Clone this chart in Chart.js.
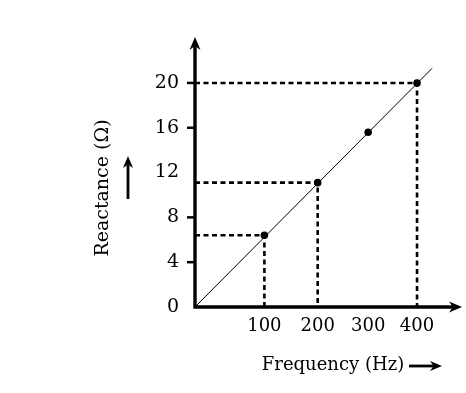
<!DOCTYPE html>
<html><head><meta charset="utf-8">
<script src="https://cdn.jsdelivr.net/npm/chart.js@4/dist/chart.umd.min.js"></script>
<style>html,body{margin:0;padding:0;background:#fff}</style>
</head><body>
<canvas id="c" width="466" height="393"></canvas>
<script>
// ---- data ----
const freqLabels = ['100', '200', '300', '400'];   // tick labels under the points
const pointFreq = [125, 221, 312, 400];             // frequency of each point along the drawn axis
const reactance = [6.4, 11.1, 15.6, 20];            // reactance of each point (Ω)
const yTicks = [0, 4, 8, 12, 16, 20];
const yTickMarks = [false, true, true, false, true, true];
const hasGuides = [true, true, false, true];
const lineFreq = [0, 427];
const lineReact = [0, 21.3];
const xMax = 481, yMax = 24.1;

const FONT = '"DejaVu Serif", "Liberation Serif", serif';

function arrow(ctx, x, y, dir, len, half) {
  ctx.save();
  ctx.translate(x, y);
  ctx.rotate(dir);
  ctx.beginPath();
  ctx.moveTo(0, 0);
  ctx.lineTo(-len, -half);
  ctx.lineTo(-len * 0.7, 0);
  ctx.lineTo(-len, half);
  ctx.closePath();
  ctx.fill();
  ctx.restore();
}

const decor = {
  id: 'decor',
  beforeDatasetsDraw(chart) {
    const {ctx, chartArea: a, scales: {x, y}} = chart;
    ctx.save();
    ctx.strokeStyle = '#000';
    ctx.fillStyle = '#000';
    // dashed guides
    ctx.lineWidth = 2.6;
    ctx.setLineDash([5, 3.5]);
    pointFreq.forEach((f, i) => {
      if (!hasGuides[i]) return;
      const px = x.getPixelForValue(f), py = y.getPixelForValue(reactance[i]);
      ctx.beginPath();
      ctx.moveTo(x.getPixelForValue(0), py);
      ctx.lineTo(px, py);
      ctx.lineTo(px, y.getPixelForValue(0));
      ctx.stroke();
    });
    ctx.setLineDash([]);
    // axes
    const ox = x.getPixelForValue(0), oy = y.getPixelForValue(0);
    ctx.lineWidth = 3.4;
    ctx.beginPath();
    ctx.moveTo(ox, oy + 1.5);
    ctx.lineTo(ox, a.top + 6);
    ctx.moveTo(ox - 1.5, oy);
    ctx.lineTo(a.right - 6, oy);
    ctx.stroke();
    arrow(ctx, ox, a.top, -Math.PI / 2, 13, 5.5);
    arrow(ctx, a.right, oy, 0, 13, 5.5);
    // y tick marks
    ctx.lineWidth = 2.5;
    yTicks.forEach((v, i) => {
      if (!yTickMarks[i]) return;
      const py = y.getPixelForValue(v);
      ctx.beginPath();
      ctx.moveTo(ox - 8, py);
      ctx.lineTo(ox, py);
      ctx.stroke();
    });
    ctx.restore();
  },
  afterDraw(chart) {
    const {ctx} = chart;
    ctx.save();
    ctx.fillStyle = '#000';
    ctx.strokeStyle = '#000';
    ctx.textAlign = 'center';
    ctx.textBaseline = 'middle';
    // y title
    ctx.font = '19px ' + FONT;
    ctx.save();
    ctx.translate(103, 188);
    ctx.rotate(-Math.PI / 2);
    ctx.fillText('Reactance (Ω)', 0, 0);
    ctx.restore();
    ctx.lineWidth = 2.8;
    ctx.beginPath();
    ctx.moveTo(128, 199);
    ctx.lineTo(128, 165);
    ctx.stroke();
    arrow(ctx, 128, 156, -Math.PI / 2, 12, 5);
    // x title
    ctx.font = '18px ' + FONT;
    ctx.fillText('Frequency (Hz)', 333, 365);
    ctx.beginPath();
    ctx.moveTo(409, 366);
    ctx.lineTo(434, 366);
    ctx.stroke();
    arrow(ctx, 442, 366, 0, 12, 5);
    ctx.restore();
  }
};

new Chart(document.getElementById('c'), {
  type: 'scatter',
  data: {
    datasets: [
      {
        data: lineFreq.map((f, i) => ({x: f, y: lineReact[i]})),
        showLine: true, borderColor: '#000', borderWidth: 1, pointRadius: 0
      },
      {
        data: pointFreq.map((f, i) => ({x: f, y: reactance[i]})),
        showLine: false, pointRadius: 3.8, backgroundColor: '#000', borderColor: '#000', borderWidth: 0
      }
    ]
  },
  options: {
    responsive: false,
    animation: false,
    layout: {padding: {top: 37, right: 3, left: 0, bottom: 0}},
    plugins: {legend: {display: false}, tooltip: {enabled: false}},
    scales: {
      x: {
        type: 'linear', min: 0, max: xMax,
        grid: {display: false, drawTicks: false},
        border: {display: false},
        afterBuildTicks: s => { s.ticks = pointFreq.map(v => ({value: v})); },
        afterFit: s => { s.height = 86; },
        ticks: {
          callback: (v, i) => freqLabels[i],
          color: '#000', font: {family: FONT, size: 18}, padding: 9,
          maxRotation: 0, autoSkip: false
        }
      },
      y: {
        type: 'linear', min: 0, max: yMax,
        grid: {display: false, drawTicks: false},
        border: {display: false},
        afterBuildTicks: s => { s.ticks = yTicks.map(v => ({value: v})); },
        afterFit: s => { s.width = 195; },
        ticks: {
          callback: v => String(v),
          color: '#000', font: {family: FONT, size: 19}, padding: 16
        }
      }
    }
  },
  plugins: [decor]
});
</script>
</body></html>
